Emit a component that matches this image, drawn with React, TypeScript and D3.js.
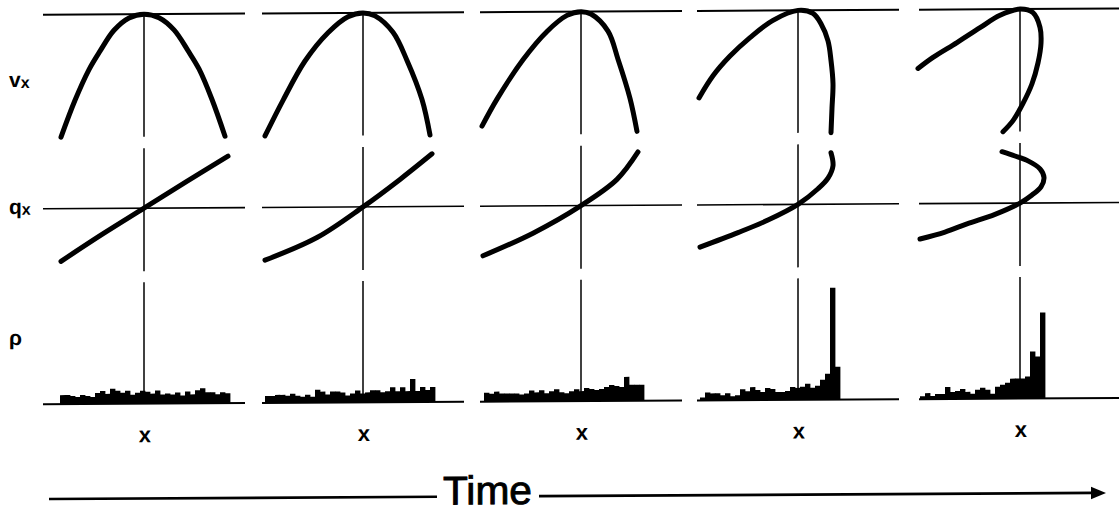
import React from "react";
import * as d3 from "d3";

// Centre (x = 0) of each time-step column, left to right
const columnCenters = [144, 363, 581, 798, 1020];

// v_x against x, points ordered along each curve (x in [-1, 1], v_x in [-1, 0])
const vx1: [number, number][] = [
  [-0.83, -1.0], [-0.69, -0.7], [-0.55, -0.45], [-0.44, -0.3], [-0.3, -0.13], [-0.15, -0.03],
  [0, 0], [0.15, -0.03], [0.3, -0.13], [0.44, -0.3], [0.55, -0.45], [0.68, -0.7], [0.81, -1.0],
];
const vx2: [number, number][] = [
  [-0.98, -1.0], [-0.8, -0.71], [-0.58, -0.39], [-0.35, -0.16], [-0.15, -0.03],
  [0, 0], [0.12, -0.025], [0.3, -0.16], [0.44, -0.39], [0.59, -0.71], [0.67, -1.0],
];
const vx3: [number, number][] = [
  [-0.99, -0.93], [-0.84, -0.71], [-0.58, -0.39], [-0.34, -0.16], [-0.14, -0.03],
  [0, 0], [0.1, -0.02], [0.27, -0.16], [0.37, -0.39], [0.49, -0.71], [0.56, -0.98],
];
const vx4: [number, number][] = [
  [-0.99, -0.71], [-0.85, -0.53], [-0.68, -0.37], [-0.48, -0.22], [-0.25, -0.08],
  [0, 0], [0.15, -0.025], [0.23, -0.11], [0.3, -0.25], [0.33, -0.41], [0.35, -0.6], [0.34, -0.8], [0.33, -1.0],
];
const vx5: [number, number][] = [
  [-1.02, -0.48], [-0.87, -0.39], [-0.63, -0.27], [-0.4, -0.15], [-0.2, -0.05],
  [0, 0], [0.13, -0.03], [0.2, -0.15], [0.21, -0.28], [0.18, -0.44], [0.12, -0.61],
  [0.03, -0.77], [-0.07, -0.91], [-0.17, -1.0],
];

// q_x against x (q_x in [-1, 1])
const qx1: [number, number][] = [
  [-0.83, -0.85], [-0.42, -0.42], [0, 0], [0.42, 0.42], [0.84, 0.83],
];
const qx2: [number, number][] = [
  [-0.98, -0.85], [-0.46, -0.49], [0, 0], [0.37, 0.44], [0.69, 0.85],
];
const qx3: [number, number][] = [
  [-0.98, -0.8], [-0.48, -0.44], [0, 0], [0.36, 0.42], [0.57, 0.86],
];
const qx4: [number, number][] = [
  [-0.98, -0.68], [-0.6, -0.45], [-0.3, -0.25], [0, 0], [0.2, 0.25], [0.3, 0.42], [0.35, 0.62], [0.33, 0.83],
];
const qx5: [number, number][] = [
  [-1.0, -0.57], [-0.75, -0.46], [-0.53, -0.33], [-0.25, -0.18], [0, 0], [0.12, 0.13],
  [0.21, 0.26], [0.24, 0.41], [0.2, 0.55], [0.08, 0.68], [-0.05, 0.76], [-0.18, 0.83],
];

// Density histograms: left edge of first bin, then counts per bin
const binWidth = 0.05;
const rhoStart = [-0.84, -0.98, -0.97, -0.98, -1.0];
const rho1 = [9, 9, 8, 7, 9, 8, 7, 11, 13, 10, 15, 13, 11, 13, 9, 11, 13, 12, 10, 13, 9, 10, 9, 11, 8, 12, 9, 13, 15, 11, 11, 9, 11, 10];
const rho2 = [7, 7, 8, 8, 7, 9, 7, 6, 8, 6, 13, 11, 8, 11, 11, 10, 7, 9, 12, 9, 10, 12, 12, 10, 11, 15, 11, 15, 11, 23, 11, 15, 12, 15];
const rho3 = [9, 8, 10, 8, 8, 8, 8, 7, 8, 11, 9, 11, 8, 10, 12, 9, 8, 10, 12, 10, 13, 12, 11, 12, 14, 16, 15, 14, 24, 16, 16, 16];
const rho4 = [3, 8, 7, 7, 5, 7, 4, 5, 11, 9, 13, 10, 8, 12, 11, 8, 8, 9, 13, 12, 13, 16, 12, 14, 20, 26, 112, 33];
const rho5 = [3, 6, 3, 5, 5, 12, 7, 8, 10, 7, 5, 9, 11, 9, 5, 12, 14, 16, 20, 20, 20, 22, 47, 42, 86];

const vxCurves = [vx1, vx2, vx3, vx4, vx5];
const qxCurves = [qx1, qx2, qx3, qx4, qx5];
const rhoCounts = [rho1, rho2, rho3, rho4, rho5];

const rowLabels = ["v", "q", "ρ"];
const rowSubscripts = ["x", "x", ""];
const columnLabel = "x";
const timeLabel = "Time";

const SANS = "'Liberation Sans', Arial, Helvetica, sans-serif";
const NARROW = "'Liberation Sans Narrow', 'Arial Narrow', 'Liberation Sans', sans-serif";

export default function App() {
  const W = 1119;
  const H = 516;

  // vertical scales shared by all columns
  const vY = d3.scaleLinear().domain([-1, 0]).range([137.5, 15]);
  const qY = d3.scaleLinear().domain([-1, 1]).range([271, 147]);
  const rY = d3.scaleLinear().domain([0, 120]).range([404.5, 284.5]);

  const rows = [
    { top: 15, bottom: 137.5 },
    { top: 149, bottom: 272 },
    { top: 283, bottom: 404.5 },
  ];

  return (
    <svg
      width={W}
      height={H}
      viewBox={`0 0 ${W} ${H}`}
      style={{ position: "absolute", left: 0, top: 0, background: "#fff" }}
    >
      <rect x={0} y={0} width={W} height={H} fill="#fff" />
      <g transform="matrix(1,-0.0058,0,1,0,0)">
        {columnCenters.map((cx, i) => {
          const x = d3.scaleLinear().domain([-1, 1]).range([cx - 100, cx + 100]);
          const vLine = d3
            .line<[number, number]>()
            .x((d) => x(d[0]))
            .y((d) => vY(d[1]))
            .curve(d3.curveCatmullRom.alpha(0.5));
          const qLine = d3
            .line<[number, number]>()
            .x((d) => x(d[0]))
            .y((d) => qY(d[1]))
            .curve(d3.curveCatmullRom.alpha(0.5));
          const counts = rhoCounts[i];
          const start = rhoStart[i];
          const bw = x(binWidth) - x(0);
          return (
            <g key={i}>
              {/* reference axes */}
              <line x1={x(-1.01)} x2={x(1.01)} y1={vY(0)} y2={vY(0)} stroke="#000" strokeWidth={2} />
              <line x1={x(-1.01)} x2={x(1.01)} y1={qY(0)} y2={qY(0)} stroke="#000" strokeWidth={1.6} />
              <line x1={x(-1.01)} x2={x(1.01)} y1={rY(0)} y2={rY(0)} stroke="#000" strokeWidth={2} />
              {rows.map((r, j) => (
                <line key={j} x1={x(0)} x2={x(0)} y1={r.top} y2={r.bottom} stroke="#000" strokeWidth={1.5} />
              ))}
              {/* density histogram */}
              {counts.map((c, k) => {
                const x0 = x(start + k * binWidth);
                return (
                  <rect
                    key={k}
                    x={x0}
                    y={rY(c)}
                    width={bw + 0.4}
                    height={rY(0) - rY(c)}
                    fill="#000"
                  />
                );
              })}
              {/* v_x and q_x profiles */}
              <path d={vLine(vxCurves[i]) || ""} fill="none" stroke="#000" strokeWidth={5} strokeLinecap="round" strokeLinejoin="round" />
              <path d={qLine(qxCurves[i]) || ""} fill="none" stroke="#000" strokeWidth={5} strokeLinecap="round" strokeLinejoin="round" />
              <text
                x={x(0.01)}
                y={443}
                textAnchor="middle"
                fontFamily={SANS}
                fontWeight="bold"
                fontSize={22}
                fill="#000"
              >
                {columnLabel}
              </text>
            </g>
          );
        })}

        {/* row labels */}
        {rowLabels.map((lab, j) => {
          const baselines = [87, 214, 345];
          return (
            <text key={j} x={9} y={baselines[j]} fontFamily={SANS} fontWeight="bold" fontSize={21} fill="#000">
              {lab}
              {rowSubscripts[j] ? (
                <tspan fontSize={16} dy={1}>
                  {rowSubscripts[j]}
                </tspan>
              ) : null}
            </text>
          );
        })}

        {/* time arrow */}
        <line x1={49} x2={437} y1={499.3} y2={499.3} stroke="#000" strokeWidth={2.7} />
        <line x1={539} x2={1094} y1={499.3} y2={499.3} stroke="#000" strokeWidth={2.7} />
        <path d="M1106,499.3 L1091,493 L1091,505.6 Z" fill="#000" />
        <text
          x={443}
          y={507}
          fontFamily={NARROW}
          fontSize={40}
          textLength={89}
          lengthAdjust="spacingAndGlyphs"
          fill="#000"
          stroke="#000"
          strokeWidth={0.9}
        >
          {timeLabel}
        </text>
      </g>
    </svg>
  );
}
